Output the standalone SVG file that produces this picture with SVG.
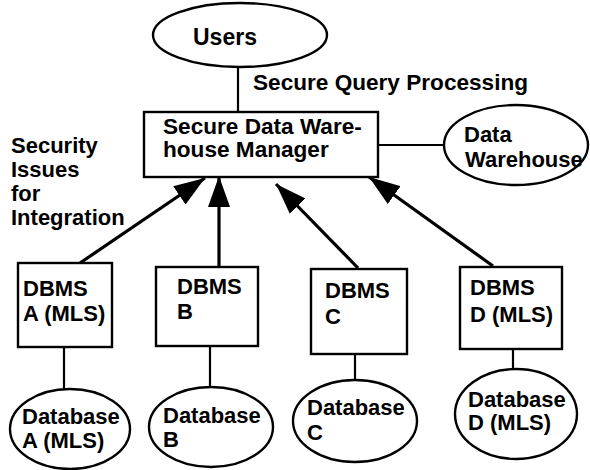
<svg xmlns="http://www.w3.org/2000/svg" width="590" height="470" viewBox="0 0 590 470">
<style>
.t{font-family:"Liberation Sans",Arial,Helvetica,sans-serif;font-weight:bold;font-size:22px;fill:#000}
.w{font-size:22.6px}
.s{fill:#fff;stroke:#000;stroke-width:2.4}
.l{stroke:#000;stroke-width:2.2;fill:none}
.a{stroke:#000;stroke-width:3.2;fill:none;marker-end:url(#ah)}
</style>
<defs>
<marker id="ah" viewBox="0 0 31 22" refX="31" refY="11" markerWidth="31" markerHeight="22" orient="auto" markerUnits="userSpaceOnUse">
<path d="M0,0 L31,11 L0,22 Z" fill="#000"/>
</marker>
</defs>
<rect width="590" height="470" fill="#fff"/>
<g id="connectors">
<line class="l" x1="238" y1="67" x2="238" y2="112"/>
<line class="l" x1="378" y1="145" x2="444" y2="145"/>
<line class="a" x1="80" y1="263" x2="205" y2="178"/>
<line class="a" x1="219" y1="267" x2="219" y2="176"/>
<line class="a" x1="358" y1="268" x2="276" y2="184"/>
<line class="a" x1="493" y1="266" x2="369" y2="177"/>
<line class="l" x1="64" y1="347" x2="64" y2="390"/>
<line class="l" x1="210" y1="346" x2="210" y2="387"/>
<line class="l" x1="355" y1="354" x2="355" y2="380"/>
<line class="l" x1="513" y1="349" x2="513" y2="369"/>
</g>
<g id="users">
<ellipse class="s" cx="240" cy="35" rx="87" ry="32"/>
<text class="t" x="193" y="45" style="font-size:23px">Users</text>
</g>
<text class="t w" x="253" y="90">Secure Query Processing</text>
<g id="manager">
<rect class="s" x="144" y="112" width="234" height="65"/>
<text class="t w" x="163" y="134">Secure Data Ware-</text>
<text class="t w" x="163" y="157">house Manager</text>
</g>
<g id="warehouse">
<ellipse class="s" cx="516" cy="145" rx="72" ry="40"/>
<text class="t" x="464" y="142">Data</text>
<text class="t" x="465" y="167">Warehouse</text>
</g>
<g id="security-label">
<text class="t" x="11" y="153">Security</text>
<text class="t" x="11" y="177">Issues</text>
<text class="t" x="11" y="201">for</text>
<text class="t" x="11" y="225">Integration</text>
</g>
<g id="dbms-a">
<rect class="s" x="18" y="263" width="94" height="84"/>
<text class="t" x="23" y="296">DBMS</text>
<text class="t" x="23" y="321">A (MLS)</text>
</g>
<g id="dbms-b">
<rect class="s" x="156" y="267" width="102" height="79"/>
<text class="t" x="177" y="294">DBMS</text>
<text class="t" x="177" y="319">B</text>
</g>
<g id="dbms-c">
<rect class="s" x="311" y="269" width="96" height="85"/>
<text class="t" x="325" y="298">DBMS</text>
<text class="t" x="325" y="324">C</text>
</g>
<g id="dbms-d">
<rect class="s" x="460" y="267" width="102" height="82"/>
<text class="t" x="470" y="295">DBMS</text>
<text class="t" x="470" y="322">D (MLS)</text>
</g>
<g id="db-a">
<ellipse class="s" cx="70" cy="429" rx="60" ry="40"/>
<text class="t" x="22" y="424">Database</text>
<text class="t" x="22" y="448">A (MLS)</text>
</g>
<g id="db-b">
<ellipse class="s" cx="211" cy="427" rx="62" ry="40"/>
<text class="t" x="163" y="423">Database</text>
<text class="t" x="163" y="447">B</text>
</g>
<g id="db-c">
<ellipse class="s" cx="355" cy="421" rx="62" ry="41"/>
<text class="t" x="307" y="415">Database</text>
<text class="t" x="307" y="440">C</text>
</g>
<g id="db-d">
<ellipse class="s" cx="516" cy="414" rx="61" ry="45"/>
<text class="t" x="468" y="407">Database</text>
<text class="t" x="468" y="430">D (MLS)</text>
</g>
</svg>
